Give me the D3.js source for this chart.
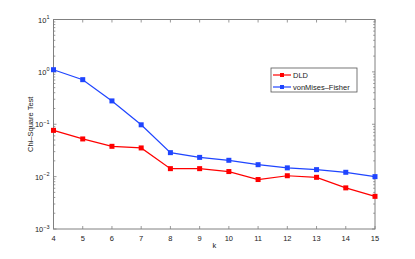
<!DOCTYPE html>
<html><head><meta charset="utf-8">
<script src="https://cdn.jsdelivr.net/npm/d3@7"></script>
<style>body{margin:0;background:#fff}svg{display:block}</style>
</head><body>
<script>
const ks = [4,5,6,7,8,9,10,11,12,13,14,15];
const dld = [0.0765,0.0524,0.0379,0.0353,0.0142,0.0142,0.0125,0.0088,0.0104,0.0097,0.0061,0.0042];
const vmf = [1.10,0.71,0.279,0.0976,0.0287,0.0233,0.0205,0.0169,0.0147,0.0136,0.0121,0.0100];
const seriesNames = ["DLD","vonMises\u2013Fisher"];
const seriesColors = ["#ff0000","#1f45ff"];
const yExps = [-3,-2,-1,0,1];

const W=415,H=259;
const m={left:53.5,right:40,top:19.5,bottom:30};
const svg=d3.select("body").append("svg").attr("width",W).attr("height",H);
const x=d3.scaleLinear().domain([4,15]).range([m.left,W-m.right]);
const y=d3.scaleLog().domain([1e-3,10]).range([H-m.bottom,m.top]);
const axisColor="#808080";
const font="Liberation Sans, Arial, sans-serif";

svg.append("rect").attr("x",m.left).attr("y",m.top).attr("width",x(15)-x(4)).attr("height",y(1e-3)-y(10))
  .attr("fill","none").attr("stroke",axisColor).attr("stroke-width",1);

const g=svg.append("g").attr("stroke",axisColor).attr("stroke-width",0.8);
ks.forEach(k=>{
  g.append("line").attr("x1",x(k)).attr("x2",x(k)).attr("y1",y(1e-3)).attr("y2",y(1e-3)-3);
  g.append("line").attr("x1",x(k)).attr("x2",x(k)).attr("y1",y(10)).attr("y2",y(10)+3);
});
for(let e=-3;e<=1;e++){
  for(let mm=1;mm<=9;mm++){
    const v=mm*Math.pow(10,e);
    if(v>10.0001) break;
    const len = mm===1?3:1.8;
    g.append("line").attr("x1",m.left).attr("x2",m.left+len).attr("y1",y(v)).attr("y2",y(v));
    g.append("line").attr("x1",x(15)).attr("x2",x(15)-len).attr("y1",y(v)).attr("y2",y(v));
  }
}
svg.append("g").selectAll("text").data(ks).join("text")
  .attr("x",d=>x(d)).attr("y",y(1e-3)+12).attr("text-anchor","middle")
  .attr("font-family",font).attr("font-size",7.5).attr("fill","#222").text(d=>d);
const yl=svg.append("g").selectAll("text").data(yExps).join("text")
  .attr("x",m.left-4).attr("y",d=>y(Math.pow(10,d))+3).attr("text-anchor","end")
  .attr("font-family",font).attr("font-size",7.5).attr("fill","#222");
yl.append("tspan").text("10");
yl.append("tspan").attr("dy",-3.5).attr("font-size",5.5).text(d=>d<0?"\u2212"+(-d):d);

svg.append("text").attr("x",(x(4)+x(15))/2).attr("y",H-11).attr("text-anchor","middle")
  .attr("font-family",font).attr("font-size",7.5).attr("fill","#222").text("k");
svg.append("text").attr("transform",`translate(33,${(y(1e-3)+y(10))/2}) rotate(-90)`).attr("text-anchor","middle")
  .attr("font-family",font).attr("font-size",7.5).attr("fill","#222").text("Chi\u2013Square Test");

const line=d3.line().x((d,i)=>x(ks[i])).y(d=>y(d));
[dld,vmf].forEach((s,si)=>{
  svg.append("path").datum(s).attr("d",line).attr("fill","none").attr("stroke",seriesColors[si]).attr("stroke-width",1.2);
  svg.append("g").selectAll("rect").data(s).join("rect")
    .attr("x",(d,i)=>x(ks[i])-2.5).attr("y",d=>y(d)-2.5).attr("width",5).attr("height",5).attr("fill",seriesColors[si]);
});

const lg=svg.append("g");
lg.append("rect").attr("x",271).attr("y",68).attr("width",86).attr("height",24).attr("fill","#fff").attr("stroke","#555").attr("stroke-width",0.8);
seriesNames.forEach((n,i)=>{
  const ly=75+i*12;
  lg.append("line").attr("x1",273).attr("x2",291).attr("y1",ly).attr("y2",ly).attr("stroke",seriesColors[i]).attr("stroke-width",1.2);
  lg.append("rect").attr("x",280).attr("y",ly-2).attr("width",4).attr("height",4).attr("fill",seriesColors[i]);
  lg.append("text").attr("x",293).attr("y",ly+2.7).attr("font-family",font).attr("font-size",7.5).attr("fill","#222").text(n);
});
</script>
</body></html>
